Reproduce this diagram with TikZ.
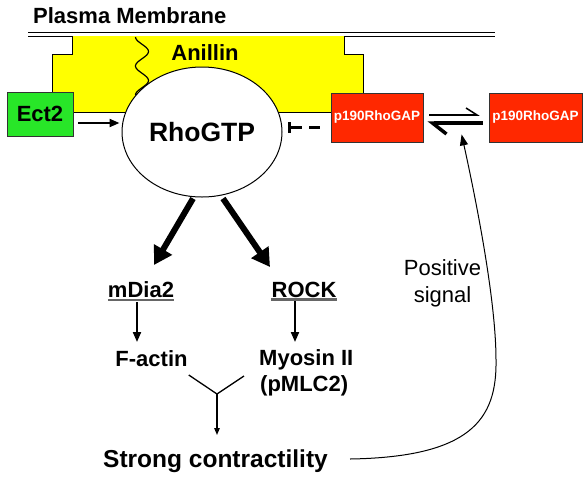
\documentclass[tikz,border=0pt]{standalone}
\usepackage{fontspec}
\setmainfont{Liberation Sans}
\usetikzlibrary{arrows.meta,shapes.geometric}
\definecolor{anillinyellow}{RGB}{255,255,0}
\definecolor{ectgreen}{RGB}{40,230,40}
\definecolor{gapred}{RGB}{255,40,0}

\begin{document}
\begin{tikzpicture}[x=1pt,y=-1pt,
  big/.style={font=\fontsize{22}{26}\selectfont\bfseries},
  box/.style={draw=black!80, line width=0.8pt, minimum height=49pt},
  gapbox/.style={box, fill=gapred, text=white, font=\fontsize{13.5}{16}\selectfont\bfseries},
  thinarrow/.style={line width=2pt, -{Triangle[length=10pt,width=8pt]}},
  thickarrow/.style={line width=6pt, -{Triangle[length=18pt,width=20pt]}},
  uline/.style={line width=2.2pt, black!60}]
\tikzstyle{every node}+=[inner sep=0pt]
\useasboundingbox (0,0) rectangle (588,477);
% membrane
\draw [line width=1pt] (28,32) -- (495,32);
\draw [line width=1pt] (28,36) -- (495,36);
\node [big, anchor=base west] (memlabel) at (33,23) {Plasma Membrane};
% anillin
\fill [anillinyellow] (72,36) -- (344,36) -- (344,54) -- (363,54) -- (363,112) -- (52,112) -- (52,54) -- (72,54) -- cycle;
\draw [line width=0.8pt] (72,36) -- (72,54) -- (52,54) -- (52,112) -- (363,112) -- (363,54) -- (344,54) -- (344,36);
\draw [line width=1.2pt] plot[domain=0:2, samples=40, smooth] ({142-6.5*cos(\x*360)},{37+\x*29});
\node [big, anchor=base] (anillin) at (205,60) {Anillin};
% proteins
\node [draw, ellipse, fill=white, line width=1pt, minimum width=160pt, minimum height=130pt,
  font=\fontsize{26.5}{30}\selectfont\bfseries] (rho) at (202,132) {RhoGTP};
\node [box, big, fill=ectgreen, minimum width=66pt, minimum height=44pt] (ect) at (40,114) {Ect2};
\node [gapbox, minimum width=92pt] (gapm) at (377,117.5) {p190RhoGAP};
\node [gapbox, minimum width=93pt] (gapc) at (535.5,117.5) {p190RhoGAP};
\node [big, anchor=base] (mdia) at (141,297) {mDia2};
\node [big, anchor=base] (rock) at (304,297) {ROCK};
\node [big, anchor=base] (factin) at (151.5,366) {F-actin};
\node [big, anchor=base west] (myosin) at (259,365) {Myosin II};
\node [big, anchor=base west] (pmlc) at (260,391) {(pMLC2)};
\node [font=\fontsize{24.5}{28}\selectfont\bfseries, anchor=base] (strong) at (215.5,467) {Strong contractility};
\node [font=\fontsize{22}{27}\selectfont, align=center] (signal) at (442.5,283) {Positive\\signal};
\coordinate (yjoin) at (217,394);
% underlines
\draw [uline] ([yshift=-3pt]mdia.base west) -- ([yshift=-3pt]mdia.base east);
\draw [uline] ([yshift=-2.5pt]rock.base west) -- ([yshift=-2.5pt]rock.base east);
% connectors
\draw [thinarrow] ([shift={(5pt,-9pt)}]ect.east) -- ([shift={(-2pt,9pt)}]rho.west);
\draw [line width=3pt, dash pattern=on 11pt off 7pt, -{Bar[width=11pt]}] ([shift={(-11pt,-9.5pt)}]gapm.west) -- ([shift={(5pt,5pt)}]rho.east);
\draw [line width=1.5pt, -{Straight Barb[harpoon,length=11pt,width=14pt]}] ([shift={(6pt,2.5pt)}]gapm.east) -- ([shift={(-9pt,2.5pt)}]gapc.west);
\draw [line width=3.5pt, -{Straight Barb[harpoon,length=14pt,width=22pt]}] ([shift={(-6pt,-5.5pt)}]gapc.west) -- ([shift={(4pt,-5.5pt)}]gapm.east);
\draw [thickarrow] ([shift={(-9pt,-1pt)}]rho.south) -- ([shift={(13pt,32pt)}]mdia.base);
\draw [thickarrow] ([shift={(21pt,-1pt)}]rho.south) -- ([shift={(-34pt,30pt)}]rock.base);
\draw [thinarrow] ([shift={(-4pt,-5pt)}]mdia.base) -- ++(0,40);
\draw [thinarrow] ([shift={(-9pt,-4pt)}]rock.base) -- ++(0,41);
\draw [line width=1.3pt] ([shift={(1pt,-9pt)}]factin.base east) -- (yjoin) -- ([shift={(-16pt,15pt)}]pmlc.base west);
\draw [line width=1.3pt, -{Triangle[length=7pt,width=5.5pt]}] (yjoin) -- ([shift={(1.5pt,32pt)}]strong.base);
\draw [line width=1pt, -{Triangle[length=11pt,width=8pt]}] ([shift={(22pt,8pt)}]strong.base east)
  .. controls (470,457) and (497,420) .. (496,360)
  .. controls (496,300) and (476,200) .. ([shift={(-27pt,8pt)}]gapc.south west);
\end{tikzpicture}
\end{document}
